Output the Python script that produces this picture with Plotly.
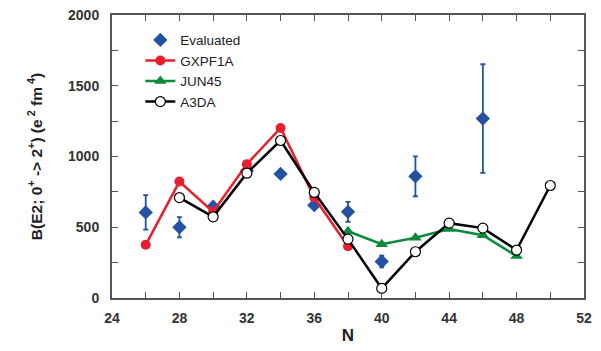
import plotly.graph_objects as go

# Evaluated data
eval_N = [26, 28, 30, 32, 34, 36, 38, 40, 42, 46]
eval_B = [605, 500, 645, 900, 877, 656, 609, 258, 860, 1268]
eval_err = [122, 71, 0, 0, 0, 0, 70, 41, 141, 384]

# GXPF1A
gx_N = [26, 28, 30, 32, 34, 36, 38]
gx_B = [376, 823, 609, 946, 1202, 710, 366]

# JUN45
jun_N = [38, 40, 42, 44, 46, 48]
jun_B = [472, 380, 426, 488, 444, 296]

# A3DA
a3_N = [28, 30, 32, 34, 36, 38, 40, 42, 44, 46, 48, 50]
a3_B = [710, 574, 882, 1113, 746, 416, 68, 327, 529, 494, 339, 795]

FONT = "Liberation Sans, Arial, sans-serif"
BLUE = "#2452a3"
RED = "#e8202e"
GREEN = "#0b8a3c"

fig = go.Figure()

fig.add_trace(go.Scatter(
    x=eval_N, y=eval_B, mode="markers", name="Evaluated",
    marker=dict(symbol="diamond", size=11, color=BLUE),
    error_y=dict(type="data", array=eval_err, visible=True, color=BLUE,
                 thickness=1.8, width=2.5),
))
fig.add_trace(go.Scatter(
    x=gx_N, y=gx_B, mode="lines+markers", name="GXPF1A",
    line=dict(color=RED, width=2.5),
    marker=dict(symbol="circle", size=10, color=RED),
))
fig.add_trace(go.Scatter(
    x=jun_N, y=jun_B, mode="lines+markers", name="JUN45",
    line=dict(color=GREEN, width=2.5),
    marker=dict(symbol="triangle-up", size=11, color=GREEN),
))
fig.add_trace(go.Scatter(
    x=a3_N, y=a3_B, mode="lines+markers", name="A3DA",
    line=dict(color="black", width=2.5),
    marker=dict(symbol="circle", size=10, color="white",
                line=dict(color="black", width=1.2)),
))

axis_common = dict(
    showline=True, linecolor="#555", linewidth=2, mirror="ticks",
    ticks="inside", ticklen=6, tickwidth=1.3, tickcolor="#555",
    showgrid=False, zeroline=False, automargin=False,
    tickfont=dict(family=FONT, size=14, color="#333", weight="bold"),
)

fig.update_xaxes(
    range=[24, 52], dtick=4, tick0=24, ticklabelstandoff=6,
    minor=dict(dtick=2, ticks="inside", ticklen=6, tickcolor="#555", tickwidth=1.3),
    title=dict(text="N", font=dict(family=FONT, size=17, color="#222", weight="bold"), standoff=4),
    **axis_common,
)
fig.update_yaxes(
    range=[0, 2000], dtick=500, ticklabelstandoff=8,
    minor=dict(dtick=250, ticks="inside", ticklen=6, tickcolor="#555", tickwidth=1.3),
    title=dict(text="B(E2; 0<sup>+</sup> -> 2<sup>+</sup>) (e<sup> 2</sup> fm<sup> 4</sup>)",
               font=dict(family=FONT, size=15.5, color="#222", weight="bold"), standoff=22),
    **axis_common,
)

fig.update_layout(
    width=601, height=351,
    margin=dict(l=112, r=17, t=15, b=53, autoexpand=False),
    plot_bgcolor="white", paper_bgcolor="white",
    showlegend=True,
    legend=dict(x=0.06, y=0.966, xanchor="left", yanchor="top",
                bgcolor="rgba(0,0,0,0)", tracegroupgap=0,
                font=dict(family=FONT, size=13.5, color="#222"),
                itemwidth=30),
)

fig.write_html("out.html")
